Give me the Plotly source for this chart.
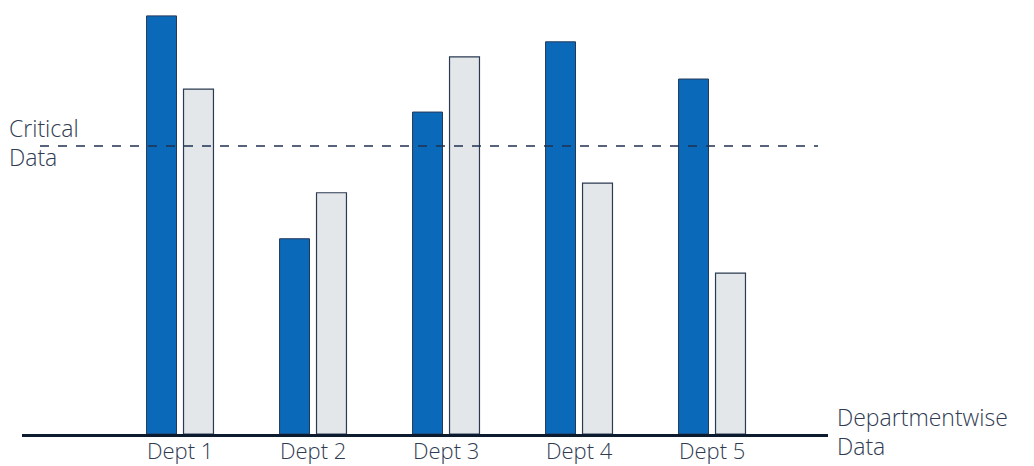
import plotly.graph_objects as go

categories = ["Dept 1", "Dept 2", "Dept 3", "Dept 4", "Dept 5"]
series_a = [100.0, 46.7, 77.0, 93.8, 84.9]
series_b = [82.5, 57.7, 90.2, 60.0, 38.5]
critical_value = 68.9

W, H = 1034, 466
ML, MR, MT, MB = 22, 206, 0, 32
plot_w = W - ML - MR
plot_h = H - MT - MB
ymax = 103.8

def px_x(p):
    return (p - ML) / plot_w

def px_y(p):
    return (H - MB - p) / plot_h

text_color = "#2f3b52"
font_family = "'Open Sans', sans-serif"
font_w = 300
label_font = dict(size=23, color=text_color, family=font_family, weight=font_w)
tick_font = dict(size=22, color=text_color, family=font_family, weight=font_w)

fig = go.Figure()
fig.add_trace(go.Bar(x=categories, y=series_a, marker=dict(color="#0b69b9", line=dict(color="#24395a", width=1))))
fig.add_trace(go.Bar(x=categories, y=series_b, marker=dict(color="#e4e7ea", line=dict(color="#2b3a52", width=1.2))))

fig.add_shape(type="line", xref="paper", yref="y", x0=px_x(40), x1=px_x(818),
              y0=critical_value, y1=critical_value,
              line=dict(color="#1f3050", width=1.5, dash="dash"))

annots = [
    ("Critical", 8, 128),
    ("Data", 8, 157),
    ("Departmentwise", 836, 417),
    ("Data", 836, 446),
]
for t, x, y in annots:
    fig.add_annotation(text=t, xref="paper", yref="paper", x=px_x(x), y=px_y(y),
                       xanchor="left", yanchor="middle", showarrow=False,
                       borderpad=0, font=label_font)

# category labels drawn as annotations so they are not clipped at the bottom edge
for c in categories:
    fig.add_annotation(text=c, xref="x", yref="paper", x=c, y=px_y(450),
                       xanchor="center", yanchor="middle", showarrow=False,
                       borderpad=0, font=tick_font)

fig.update_layout(
    width=W, height=H,
    margin=dict(l=ML, r=MR, t=MT, b=MB, autoexpand=False),
    paper_bgcolor="white", plot_bgcolor="white",
    barmode="group", bargap=0.444, bargroupgap=0.19,
    showlegend=False,
    xaxis=dict(range=[-1.188, 4.872], showline=True, linecolor="#0d1b2e", linewidth=3,
               showgrid=False, ticks="", showticklabels=False, automargin=False,
               fixedrange=True),
    yaxis=dict(range=[0, ymax], visible=False, showgrid=False, fixedrange=True),
)

fig.write_html("out.html")
